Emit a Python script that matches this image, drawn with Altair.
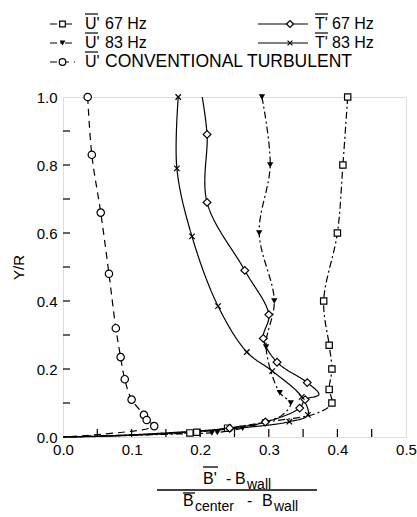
import altair as alt
import pandas as pd

# ---- data ----
conv_x = [0.036, 0.042, 0.055, 0.067, 0.077, 0.084, 0.090, 0.100, 0.118, 0.122, 0.133, 0.0]
conv_y = [1.00, 0.83, 0.66, 0.48, 0.32, 0.235, 0.17, 0.11, 0.065, 0.05, 0.032, 0.0]
conv_m = [1, 1, 1, 1, 1, 1, 1, 1, 1, 1, 1, 0]

u67_x = [0.415, 0.408, 0.400, 0.380, 0.388, 0.392, 0.388, 0.392, 0.370, 0.300, 0.240, 0.195, 0.185, 0.0]
u67_y = [1.00, 0.80, 0.60, 0.40, 0.27, 0.20, 0.14, 0.10, 0.07, 0.045, 0.026, 0.014, 0.012, 0.0]
u67_m = [1, 1, 1, 1, 1, 1, 1, 1, 0, 0, 1, 1, 1, 0]

u83_x = [0.290, 0.302, 0.286, 0.308, 0.296, 0.316, 0.332, 0.320, 0.294, 0.262, 0.225, 0.217, 0.0]
u83_y = [1.00, 0.80, 0.60, 0.40, 0.265, 0.13, 0.10, 0.065, 0.044, 0.026, 0.013, 0.012, 0.0]
u83_m = [1, 1, 1, 1, 1, 1, 1, 0, 1, 1, 1, 1, 0]

t67_x = [0.203, 0.210, 0.210, 0.265, 0.300, 0.292, 0.312, 0.356, 0.373, 0.353, 0.345, 0.295, 0.243, 0.150, 0.060, 0.0]
t67_y = [1.00, 0.89, 0.69, 0.49, 0.36, 0.29, 0.22, 0.16, 0.125, 0.11, 0.085, 0.044, 0.026, 0.012, 0.003, 0.0]
t67_m = [0, 1, 1, 1, 1, 1, 1, 1, 0, 1, 1, 1, 1, 0, 0, 0]

t83_x = [0.168, 0.166, 0.188, 0.226, 0.268, 0.305, 0.348, 0.357, 0.330, 0.250, 0.150, 0.060, 0.0]
t83_y = [1.00, 0.79, 0.59, 0.385, 0.25, 0.194, 0.118, 0.065, 0.045, 0.025, 0.010, 0.002, 0.0]
t83_m = [1, 1, 1, 1, 1, 1, 1, 1, 1, 0, 0, 0, 0]

x_labels = [0.0, 0.1, 0.2, 0.3, 0.4, 0.5]
y_labels = [0.0, 0.2, 0.4, 0.6, 0.8, 1.0]
x_ticks = [0.05, 0.1, 0.15, 0.2, 0.25, 0.3, 0.35, 0.4, 0.45]
y_ticks = [0.1, 0.2, 0.3, 0.4, 0.5, 0.6, 0.7, 0.8, 0.9]

FONT = "Liberation Sans"
W, H = 343, 340

def frame(name, xs, ys, ms):
    return pd.DataFrame({"series": name, "x": xs, "y": ys, "m": ms, "i": list(range(len(xs)))})

df = pd.concat([
    frame("conv", conv_x, conv_y, conv_m),
    frame("u67", u67_x, u67_y, u67_m),
    frame("u83", u83_x, u83_y, u83_m),
    frame("t67", t67_x, t67_y, t67_m),
    frame("t83", t83_x, t83_y, t83_m),
], ignore_index=True)

xs = alt.Scale(domain=[0, 0.5], nice=False, zero=False)
ys = alt.Scale(domain=[0, 1.0], nice=False, zero=False)

X = alt.X("x:Q", scale=xs, axis=alt.Axis(values=x_labels, format=".1f", title=None, domain=False,
                                          ticks=False, grid=False, labelFont=FONT, labelFontSize=15,
                                          labelColor="black", labelPadding=5, labelFlush=False))
Y = alt.Y("y:Q", scale=ys, axis=alt.Axis(values=y_labels, format=".1f", title="Y/R", domain=False,
                                          ticks=False, grid=False, labelFont=FONT, labelFontSize=15,
                                          labelColor="black", labelPadding=6, labelFlush=False,
                                          titleFont=FONT, titleFontSize=15, titleFontWeight="normal",
                                          titleColor="black", titleX=-37, titleY=170, titleAngle=-90))

XMARK = "M-1,-1L1,1M-1,1L1,-1"

styles = {
    "u67": dict(dash=[7, 3, 2, 3], shape="square", filled=False, size=40),
    "u83": dict(dash=[7, 3, 2, 3], shape="triangle-down", filled=True, size=40),
    "conv": dict(dash=[7, 5], shape="circle", filled=False, size=55),
    "t67": dict(dash=[1, 0], shape="diamond", filled=False, size=60),
    "t83": dict(dash=[1, 0], shape=XMARK, filled=False, size=30),
}

base = alt.Chart(df)
layers = []
first = True
for name, st in styles.items():
    line = base.transform_filter(alt.datum.series == name).mark_line(
        interpolate="catmull-rom", color="black", strokeWidth=1.2, strokeDash=st["dash"]
    ).encode(x=X if first else alt.X("x:Q", scale=xs),
             y=Y if first else alt.Y("y:Q", scale=ys),
             order="i:Q")
    first = False
    layers.append(line)
for name, st in styles.items():
    pts = base.transform_filter((alt.datum.series == name) & (alt.datum.m == 1)).mark_point(
        shape=st["shape"], filled=st["filled"], size=st["size"], color="black",
        fill="black" if st["filled"] else "white", fillOpacity=1, strokeWidth=1.2, opacity=1
    ).encode(x=alt.X("x:Q", scale=xs), y=alt.Y("y:Q", scale=ys))
    layers.append(pts)

# inward ticks
xt = alt.Chart(pd.DataFrame({"x": x_ticks})).mark_rule(color="black", strokeWidth=1.2).encode(
    x=alt.X("x:Q", scale=xs), y=alt.value(H), y2=alt.value(H - 8))
yt = alt.Chart(pd.DataFrame({"y": y_ticks})).mark_rule(color="black", strokeWidth=1.2).encode(
    y=alt.Y("y:Q", scale=ys), x=alt.value(0), x2=alt.value(7))
layers += [xt, yt]

one = pd.DataFrame({"a": [0]})

def txt(t, x, y, size=14, align="left"):
    return alt.Chart(one).mark_text(text=t, font=FONT, fontSize=size, align=align,
                                    baseline="middle", color="black").encode(x=alt.value(x), y=alt.value(y))

def seg(x1, x2, y, dash=None, w=1.2):
    kw = dict(color="black", strokeWidth=w)
    if dash:
        kw["strokeDash"] = dash
    return alt.Chart(one).mark_rule(**kw).encode(x=alt.value(x1), x2=alt.value(x2), y=alt.value(y))

def mk(st, x, y):
    return alt.Chart(one).mark_point(shape=st["shape"], filled=st["filled"], size=st["size"] * 0.8,
                                     color="black", fill="black" if st["filled"] else "white",
                                     fillOpacity=1, strokeWidth=1.2, opacity=1).encode(
        x=alt.value(x), y=alt.value(y))

# legend (positions relative to plot origin)
ox, oy = 63, 97
leg = []
rows = [
    ("u67", -13, 12, 22, -73, "U'", "67 Hz", 42, 16),
    ("u83", -13, 12, 22, -54, "U'", "83 Hz", 42, 16),
    ("conv", -13, 12, 22, -35, "U'", "CONVENTIONAL TURBULENT", 42, 17.5),
    ("t67", 195, 245, 252, -73, "T'", "67 Hz", 269, 16),
    ("t83", 195, 245, 252, -54, "T'", "83 Hz", 269, 16),
]
for name, x1, x2, tx, ty, sym, lab, lx, fs in rows:
    st = styles[name]
    d = st["dash"] if name in ("u67", "u83", "conv") else None
    leg.append(seg(x1, x2, ty, d))
    leg.append(mk(st, (x1 + x2) / 2 if name in ("u67", "u83", "conv") else x1 + 32, ty))
    leg.append(txt(sym, tx, ty, 16))
    leg.append(seg(tx, tx + 13, ty - 10, w=1.2))
    leg.append(txt(lab, lx, ty, fs))

# x-axis fraction title
title = [
    txt("B'", 203 - ox, 479 - oy, 16),
    seg(203 - ox, 218 - ox, 467 - oy, w=1.3),
    txt("-", 226 - ox, 479 - oy, 16),
    txt("B", 235 - ox, 479 - oy, 16),
    txt("wall", 247 - ox, 485 - oy, 14),
    seg(157 - ox, 317 - ox, 490 - oy, w=1.3),
    txt("B", 183 - ox, 501 - oy, 16),
    seg(183 - ox, 195 - ox, 493 - oy, w=1.3),
    txt("center", 195 - ox, 507 - oy, 14),
    txt("-", 247 - ox, 501 - oy, 16),
    txt("B", 262 - ox, 501 - oy, 16),
    txt("wall", 274 - ox, 507 - oy, 14),
]

chart = alt.layer(*layers, *leg, *title).properties(
    width=W, height=H,
    autosize=alt.AutoSizeParams(type="none"),
    padding={"left": ox, "top": oy, "right": 417 - ox - W, "bottom": 517 - oy - H},
).configure_view(stroke="black", strokeWidth=1.3).configure(background="white")

chart.save("out.html", embed_options={"renderer": "svg", "actions": False})
